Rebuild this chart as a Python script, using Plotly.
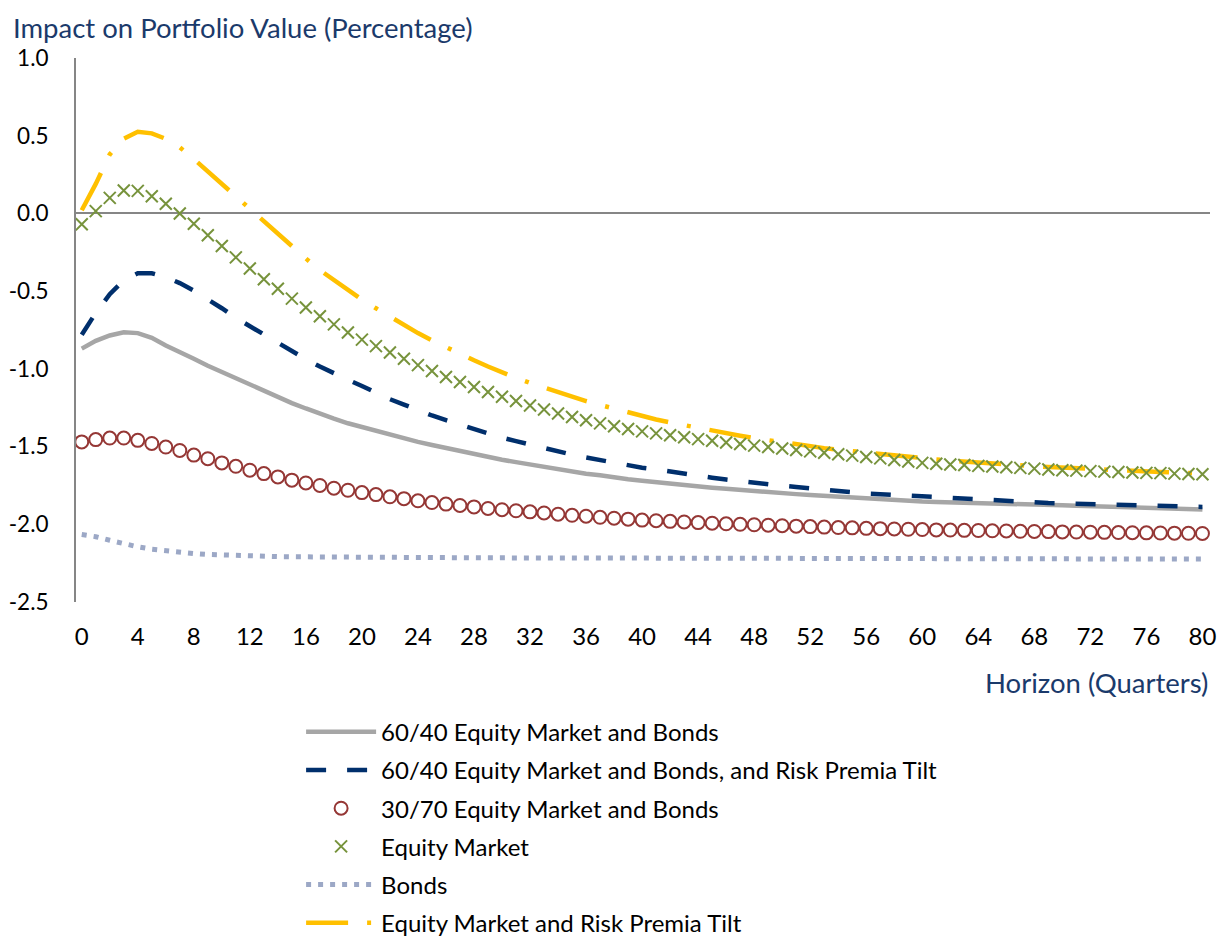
import plotly.graph_objects as go

quarters = list(range(81))

mix_60_40 = [
    -0.87, -0.82, -0.785, -0.765, -0.77, -0.80, -0.85, -0.89, -0.935, -0.98,
    -1.02, -1.065, -1.105, -1.145, -1.185, -1.22, -1.255, -1.29, -1.32, -1.35,
    -1.375, -1.40, -1.425, -1.45, -1.47, -1.49, -1.51, -1.53, -1.55, -1.57,
    -1.585, -1.60, -1.615, -1.63, -1.65, -1.665, -1.675, -1.685, -1.70, -1.71,
    -1.72, -1.73, -1.74, -1.75, -1.755, -1.765, -1.772, -1.78, -1.786, -1.792,
    -1.80, -1.806, -1.812, -1.818, -1.824, -1.829, -1.834, -1.839, -1.844, -1.849,
    -1.854, -1.857, -1.86, -1.862, -1.865, -1.868, -1.87, -1.872, -1.874, -1.876,
    -1.878, -1.88, -1.883, -1.886, -1.889, -1.892, -1.895, -1.898, -1.90, -1.902,
    -1.905,
]

mix_60_40_tilt = [
    -0.78, -0.64, -0.52, -0.43, -0.385, -0.385, -0.41, -0.448, -0.497, -0.55,
    -0.61, -0.672, -0.725, -0.782, -0.833, -0.88, -0.938, -0.985, -1.03, -1.07,
    -1.11, -1.155, -1.195, -1.23, -1.267, -1.30, -1.33, -1.36, -1.39, -1.418,
    -1.443, -1.465, -1.488, -1.51, -1.53, -1.552, -1.57, -1.588, -1.605, -1.62,
    -1.636, -1.647, -1.662, -1.676, -1.689, -1.70, -1.712, -1.723, -1.735, -1.745,
    -1.752, -1.76, -1.769, -1.777, -1.787, -1.796, -1.803, -1.806, -1.811, -1.817,
    -1.822, -1.827, -1.832, -1.838, -1.843, -1.847, -1.851, -1.856, -1.861, -1.863,
    -1.865, -1.868, -1.871, -1.874, -1.876, -1.878, -1.88, -1.882, -1.884, -1.886,
    -1.888,
]

mix_30_70 = [
    -1.47, -1.455, -1.445, -1.445, -1.46, -1.48, -1.503, -1.525, -1.555, -1.578,
    -1.605, -1.627, -1.652, -1.674, -1.695, -1.716, -1.734, -1.75, -1.768, -1.781,
    -1.796, -1.809, -1.823, -1.835, -1.849, -1.86, -1.87, -1.879, -1.888, -1.898,
    -1.906, -1.913, -1.92, -1.927, -1.935, -1.942, -1.948, -1.955, -1.961, -1.967,
    -1.973, -1.977, -1.981, -1.985, -1.989, -1.993, -1.997, -2.0, -2.003, -2.006,
    -2.009, -2.012, -2.015, -2.018, -2.021, -2.023, -2.026, -2.028, -2.03, -2.032,
    -2.034, -2.036, -2.037, -2.039, -2.04, -2.042, -2.043, -2.045, -2.046, -2.047,
    -2.049, -2.05, -2.051, -2.052, -2.053, -2.054, -2.055, -2.056, -2.057, -2.058,
    -2.059,
]

equity = [
    -0.07, 0.015, 0.10, 0.148, 0.145, 0.11, 0.062, 0.0, -0.066, -0.14,
    -0.21, -0.283, -0.354, -0.423, -0.485, -0.548, -0.605, -0.661, -0.714, -0.766,
    -0.812, -0.854, -0.895, -0.935, -0.976, -1.014, -1.052, -1.085, -1.117, -1.149,
    -1.18, -1.207, -1.236, -1.262, -1.287, -1.31, -1.331, -1.351, -1.369, -1.387,
    -1.402, -1.415, -1.427, -1.44, -1.452, -1.463, -1.474, -1.484, -1.494, -1.503,
    -1.512, -1.522, -1.531, -1.54, -1.549, -1.558, -1.567, -1.576, -1.586, -1.596,
    -1.605, -1.61, -1.615, -1.619, -1.624, -1.628, -1.633, -1.637, -1.642, -1.647,
    -1.652, -1.655, -1.658, -1.661, -1.664, -1.667, -1.669, -1.671, -1.674, -1.676,
    -1.678,
]

bonds = [
    -2.066, -2.08, -2.103, -2.125, -2.145, -2.16, -2.172, -2.181, -2.188, -2.194,
    -2.198, -2.201, -2.204, -2.206, -2.208, -2.209, -2.21, -2.211, -2.212, -2.213,
    -2.214, -2.214, -2.214, -2.215, -2.215, -2.215, -2.215, -2.216, -2.216, -2.216,
    -2.216, -2.216, -2.217, -2.217, -2.217, -2.217, -2.217, -2.218, -2.218, -2.218,
    -2.218, -2.218, -2.218, -2.219, -2.219, -2.219, -2.219, -2.219, -2.219, -2.22,
    -2.22, -2.22, -2.22, -2.22, -2.22, -2.22, -2.221, -2.221, -2.221, -2.221,
    -2.221, -2.221, -2.221, -2.222, -2.222, -2.222, -2.222, -2.222, -2.222, -2.222,
    -2.223, -2.223, -2.223, -2.223, -2.223, -2.223, -2.224, -2.224, -2.224, -2.224,
    -2.224,
]

equity_tilt = [
    0.02, 0.19, 0.38, 0.48, 0.525, 0.515, 0.48, 0.425, 0.35, 0.27,
    0.19, 0.11, 0.025, -0.055, -0.137, -0.218, -0.29, -0.365, -0.43, -0.49,
    -0.555, -0.61, -0.665, -0.718, -0.77, -0.817, -0.862, -0.905, -0.945, -0.985,
    -1.024, -1.058, -1.09, -1.12, -1.152, -1.18, -1.207, -1.232, -1.257, -1.28,
    -1.305, -1.326, -1.345, -1.363, -1.382, -1.399, -1.415, -1.43, -1.446, -1.46,
    -1.473, -1.486, -1.498, -1.51, -1.52, -1.53, -1.54, -1.55, -1.56, -1.568,
    -1.576, -1.583, -1.59, -1.597, -1.604, -1.61, -1.616, -1.621, -1.626, -1.631,
    -1.636, -1.641, -1.646, -1.65, -1.654, -1.657, -1.661, -1.664, -1.667, -1.67,
    -1.672,
]

y_ticks = [1.0, 0.5, 0.0, -0.5, -1.0, -1.5, -2.0, -2.5]
y_labels = ["1.0", "0.5", "0.0", "-0.5", "-1.0", "-1.5", "-2.0", "-2.5"]
x_ticks = list(range(0, 81, 4))

navy = "#1B3A6B"
font = "Lato"

fig = go.Figure()

fig.add_trace(go.Scatter(
    x=quarters, y=mix_60_40, mode="lines",
    name="60/40 Equity Market and Bonds",
    line=dict(color="#A6A6A6", width=4.5),
    legendrank=1, legendgroup="a",
))
fig.add_trace(go.Scatter(
    x=quarters, y=mix_60_40_tilt, mode="lines",
    name="60/40 Equity Market and Bonds, and Risk Premia Tilt",
    line=dict(color="#002F6C", width=4.5, dash="20px,21px"),
    legendrank=2, legendgroup="b",
))
fig.add_trace(go.Scatter(
    x=quarters, y=mix_30_70, mode="markers",
    name="30/70 Equity Market and Bonds",
    marker=dict(symbol="circle-open", size=13, color="#953735",
                line=dict(width=2, color="#953735")),
    legendrank=3, legendgroup="c",
))
fig.add_trace(go.Scatter(
    x=quarters, y=equity_tilt, mode="lines",
    name="Equity Market and Risk Premia Tilt",
    line=dict(color="#FFC000", width=4.5, dash="42px,19px,4px,19px"),
    legendrank=6, legendgroup="f",
))
fig.add_trace(go.Scatter(
    x=quarters, y=equity, mode="markers",
    name="Equity Market",
    marker=dict(symbol="x-thin-open", size=12, color="#77933C",
                line=dict(width=2, color="#77933C")),
    legendrank=4, legendgroup="d",
))
fig.add_trace(go.Scatter(
    x=quarters, y=bonds, mode="lines",
    name="Bonds",
    line=dict(color="#9CA8C6", width=5, dash="5px,7px"),
    legendrank=5, legendgroup="e",
))

# the page body adds an 8px offset, so margins are shifted to compensate
fig.update_layout(
    width=1225,
    height=938,
    plot_bgcolor="white",
    paper_bgcolor="white",
    margin=dict(l=68, r=23, t=50, b=344, autoexpand=False),
    font=dict(family=font, size=24, color="black"),
    showlegend=True,
    legend=dict(
        x=0.1985, y=-0.198, xanchor="left", yanchor="top",
        itemwidth=70, tracegroupgap=4, traceorder="grouped",
        font=dict(family=font, size=24, color="black"),
    ),
    xaxis=dict(
        range=[-0.41, 80.54],
        tickvals=x_ticks,
        showgrid=False,
        zeroline=False,
        showline=False,
        ticks="",
        ticklabelstandoff=18,
        automargin=False,
    ),
    yaxis=dict(
        range=[-2.5, 1.0],
        tickvals=y_ticks,
        ticktext=y_labels,
        tickfont=dict(size=22.5),
        showgrid=False,
        zeroline=True,
        zerolinecolor="#868686",
        zerolinewidth=2,
        showline=True,
        linecolor="#868686",
        linewidth=2,
        ticks="",
        ticklabelstandoff=21,
        automargin=False,
    ),
    annotations=[
        dict(
            text="Impact on Portfolio Value (Percentage)",
            xref="paper", yref="paper",
            x=-0.057, y=1 + 31 / 544,
            xanchor="left", yanchor="middle",
            showarrow=False,
            font=dict(family=font, size=27.5, color=navy),
        ),
        dict(
            text="Horizon (Quarters)",
            xref="paper", yref="paper",
            x=1.0, y=-80 / 544,
            xanchor="right", yanchor="middle",
            showarrow=False,
            font=dict(family=font, size=27.5, color=navy),
        ),
    ],
)

fig.write_html("out.html")
